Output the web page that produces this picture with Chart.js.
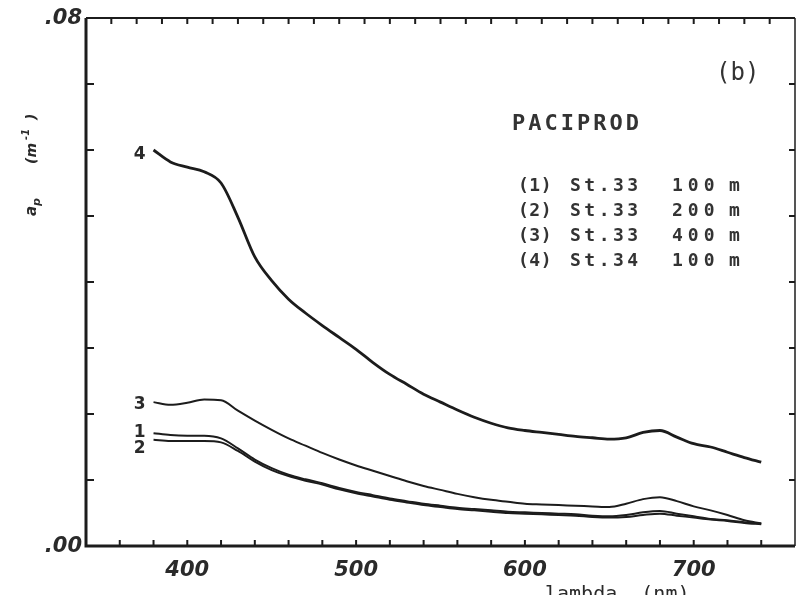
<!DOCTYPE html>
<html lang="en-US">

<head>
    <meta charset="UTF-8">
    <title>paciprod ap</title>
    <style>
        html, body { margin: 0; padding: 0; background: #fff; }
        #wrap { width: 798px; height: 595px; }
    </style>
</head>

<body>
    <div id="wrap">
        <canvas id="apchart"></canvas>
    </div>
    <script src="https://cdn.jsdelivr.net/npm/chart.js"></script>
    <script>
        // wavelengths (nm) shared by all four spectra
        const lambda = [380, 390, 400, 410, 420, 430, 440, 450, 460, 470, 480, 490, 500, 510, 520, 530, 540, 550, 560, 570,
            580, 590, 600, 610, 620, 630, 640, 650, 660, 670, 680, 690, 700, 710, 720, 730, 740]

        // (1) St.33 100 m
        const st33_100 = [0.0171, 0.0168, 0.0167, 0.0167, 0.0163, 0.0148, 0.0131, 0.0118, 0.0108, 0.0101, 0.0095, 0.0088, 0.0082,
            0.0077, 0.0072, 0.0068, 0.0064, 0.0061, 0.0058, 0.0056, 0.0054, 0.0052, 0.0051, 0.0050, 0.0049, 0.0048, 0.0046,
            0.0045, 0.0047, 0.0051, 0.0053, 0.0049, 0.0045, 0.0041, 0.0039, 0.0036, 0.0034]
        // (2) St.33 200 m
        const st33_200 = [0.0161, 0.0159, 0.0159, 0.0159, 0.0157, 0.0144, 0.0128, 0.0115, 0.0106, 0.0099, 0.0093, 0.0086, 0.0080,
            0.0075, 0.0070, 0.0066, 0.0062, 0.0059, 0.0056, 0.0054, 0.0052, 0.0050, 0.0049, 0.0048, 0.0047, 0.0046, 0.0044,
            0.0043, 0.0044, 0.0047, 0.0049, 0.0046, 0.0043, 0.0040, 0.0038, 0.0035, 0.0033]
        // (3) St.33 400 m
        const st33_400 = [0.0218, 0.0214, 0.0217, 0.0222, 0.0221, 0.0205, 0.0190, 0.0176, 0.0163, 0.0152, 0.0141, 0.0131, 0.0122,
            0.0114, 0.0106, 0.0098, 0.0091, 0.0085, 0.0079, 0.0074, 0.0070, 0.0067, 0.0064, 0.0063, 0.0062, 0.0061, 0.0060,
            0.0059, 0.0064, 0.0071, 0.0074, 0.0068, 0.0060, 0.0054, 0.0047, 0.0039, 0.0034]
        // (4) St.34 100 m
        const st34_100 = [0.0600, 0.0582, 0.0574, 0.0567, 0.0550, 0.0498, 0.0438, 0.0402, 0.0374, 0.0353, 0.0334, 0.0316, 0.0298,
            0.0278, 0.0260, 0.0245, 0.0230, 0.0218, 0.0206, 0.0195, 0.0186, 0.0179, 0.0175, 0.0172, 0.0169, 0.0166, 0.0164,
            0.0162, 0.0164, 0.0172, 0.0175, 0.0165, 0.0155, 0.0150, 0.0142, 0.0134, 0.0127]

        const curveTags = ['1', '2', '3', '4']
        const xLabels = [400, 500, 600, 700]
        const yLabels = [0, 0.08]
        const legendRows = [
            ['(1)', 'St.33', '100', 'm'],
            ['(2)', 'St.33', '200', 'm'],
            ['(3)', 'St.33', '400', 'm'],
            ['(4)', 'St.34', '100', 'm']
        ]

        const toPts = vals => lambda.map((w, i) => ({ x: w, y: vals[i] }))

        // frame, inward ticks and all the text, placed through the chart's scales
        const framePlugin = {
            id: 'frame',
            beforeDraw(chart) {
                const ctx = chart.ctx
                ctx.save()
                ctx.fillStyle = '#fff'
                ctx.fillRect(0, 0, chart.width, chart.height)
                ctx.restore()
            },
            afterDraw(chart) {
                const { ctx, chartArea: a, scales: { x, y } } = chart
                ctx.save()
                ctx.strokeStyle = '#1c1c1c'
                ctx.lineCap = 'butt'

                // box
                ctx.lineWidth = 3
                ctx.beginPath()
                ctx.moveTo(a.left, a.top); ctx.lineTo(a.left, a.bottom); ctx.lineTo(a.right, a.bottom)
                ctx.stroke()
                ctx.lineWidth = 2
                ctx.beginPath()
                ctx.moveTo(a.left, a.top); ctx.lineTo(a.right, a.top)
                ctx.stroke()
                ctx.lineWidth = 1.5
                ctx.beginPath()
                ctx.moveTo(a.right, a.top); ctx.lineTo(a.right, a.bottom)
                ctx.stroke()

                // ticks
                ctx.lineWidth = 2
                ctx.beginPath()
                for (let v = 360; v < 760; v += 20) {
                    const px = x.getPixelForValue(v)
                    ctx.moveTo(px, a.bottom); ctx.lineTo(px, a.bottom - 6)
                }
                for (let v = 355; v < 760; v += 15) {
                    const px = x.getPixelForValue(v)
                    ctx.moveTo(px, a.top); ctx.lineTo(px, a.top + 6)
                }
                for (let v = 0.01; v < 0.0801; v += 0.01) {
                    const py = y.getPixelForValue(v)
                    ctx.moveTo(a.left, py); ctx.lineTo(a.left + 8, py)
                    ctx.moveTo(a.right, py); ctx.lineTo(a.right - 6, py)
                }
                ctx.stroke()

                // tick labels
                ctx.fillStyle = '#2a2a2a'
                ctx.font = 'italic bold 21px "DejaVu Sans"'
                ctx.textAlign = 'center'
                ctx.textBaseline = 'middle'
                xLabels.forEach(v => ctx.fillText(String(v), x.getPixelForValue(v), 571))
                ctx.textAlign = 'right'
                yLabels.forEach(v => ctx.fillText(v.toFixed(2).replace(/^0/, ''), a.left - 4, y.getPixelForValue(v) + 1))

                // x title, cut by the bottom edge as in the scan
                ctx.font = '20px "DejaVu Sans Mono"'
                ctx.textAlign = 'left'
                ctx.textBaseline = 'alphabetic'
                ctx.fillText('lambda  (nm)', 545, 600)

                // y title, rotated
                ctx.save()
                ctx.translate(36, 216)
                ctx.rotate(-Math.PI / 2)
                ctx.textAlign = 'left'
                ctx.font = 'italic bold 15px "DejaVu Sans"'
                ctx.fillText('a', 0, 0)
                ctx.font = 'italic bold 11px "DejaVu Sans"'
                ctx.fillText('p', 10, 4)
                ctx.font = 'italic bold 14px "DejaVu Sans"'
                ctx.fillText('(m', 52, 0)
                ctx.font = 'italic bold 10px "DejaVu Sans"'
                ctx.fillText('-1', 76, -7)
                ctx.font = 'italic bold 14px "DejaVu Sans"'
                ctx.fillText(')', 96, 0)
                ctx.restore()

                // curve numbers next to the first point of each spectrum
                ctx.font = 'bold 17px "DejaVu Sans"'
                ctx.textAlign = 'right'
                ctx.textBaseline = 'middle'
                const firsts = [st33_100[0], st33_200[0], st33_400[0], st34_100[0]]
                const nudge = [-1, 9, 2, 5]
                firsts.forEach((v, i) => {
                    ctx.fillText(curveTags[i], x.getPixelForValue(lambda[0]) - 8, y.getPixelForValue(v) + nudge[i])
                })

                // panel tag and legend
                ctx.fillStyle = '#333'
                ctx.font = '24px "DejaVu Sans Mono"'
                ctx.textAlign = 'left'
                ctx.fillText('(b)', 716, 74)
                ctx.font = 'bold 22px "DejaVu Sans Mono"'
                ctx.letterSpacing = '3px'
                ctx.fillText('PACIPROD', 512, 124)
                ctx.font = 'bold 18px "DejaVu Sans Mono"'
                const cols = [518, 570, 672, 729]
                const spacing = ['0.5px', '3.5px', '5px', '0px']
                legendRows.forEach((row, r) => {
                    row.forEach((t, c) => {
                        ctx.letterSpacing = spacing[c]
                        ctx.fillText(t, cols[c], 186 + r * 25)
                    })
                })
                ctx.restore()
            }
        }

        const ctx = document.getElementById('apchart').getContext('2d')
        const lineOpts = (label, vals, w) => ({
            label: label,
            data: toPts(vals),
            borderColor: '#1c1c1c',
            borderWidth: w,
            pointRadius: 0,
            cubicInterpolationMode: 'monotone',
            fill: false
        })

        const apChart = new Chart(ctx, {
            type: 'line',
            data: {
                datasets: [
                    lineOpts('(1) St.33 100 m', st33_100, 2),
                    lineOpts('(2) St.33 200 m', st33_200, 2),
                    lineOpts('(3) St.33 400 m', st33_400, 2),
                    lineOpts('(4) St.34 100 m', st34_100, 2.8)
                ]
            },
            options: {
                responsive: true,
                maintainAspectRatio: false,
                animation: false,
                layout: { padding: { left: 86, top: 18, right: 3, bottom: 49 } },
                plugins: { legend: { display: false }, tooltip: { enabled: false } },
                scales: {
                    x: { type: 'linear', min: 340, max: 760, display: false },
                    y: { min: 0, max: 0.08, display: false }
                }
            },
            plugins: [framePlugin]
        })
    </script>
</body>

</html>
